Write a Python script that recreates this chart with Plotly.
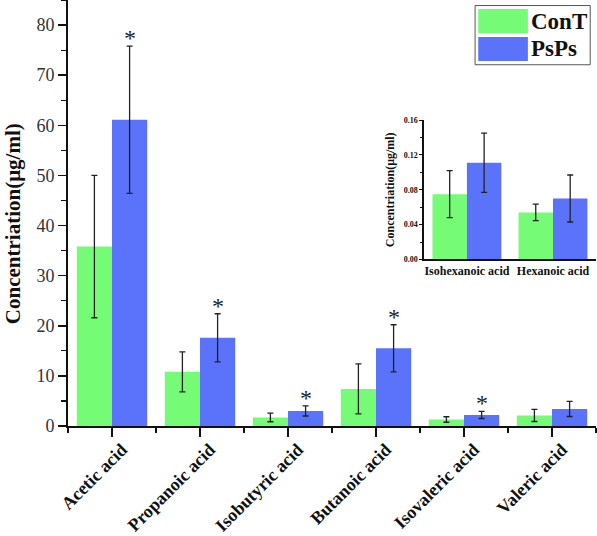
import plotly.graph_objects as go

categories = ["Acetic acid", "Propanoic acid", "Isobutyric acid", "Butanoic acid", "Isovaleric acid", "Valeric acid"]
cont_vals = [35.8, 10.8, 1.7, 7.4, 1.3, 2.1]
cont_err = [14.2, 4.0, 0.85, 5.0, 0.55, 1.2]
psps_vals = [61.1, 17.6, 3.0, 15.5, 2.2, 3.4]
psps_err = [14.7, 4.8, 1.0, 4.7, 0.7, 1.5]
significant = [True, True, True, True, True, False]

inset_categories = ["Isohexanoic acid", "Hexanoic acid"]
inset_cont_vals = [0.075, 0.054]
inset_cont_err = [0.027, 0.0095]
inset_psps_vals = [0.111, 0.070]
inset_psps_err = [0.034, 0.027]

series_names = ["ConT", "PsPs"]
y_title = "Concentriation(μg/ml)"
GREEN = "rgb(118,251,118)"
BLUE = "rgb(90,115,250)"
SERIF = "Liberation Serif"

fig = go.Figure()
xi = list(range(len(categories)))
xin = list(range(len(inset_categories)))

def add_bars(x, vals, err, name, color, xa, ya, offset):
    fig.add_trace(go.Bar(
        x=x, y=vals, name=name, marker=dict(color=color, line=dict(width=0)),
        width=0.4, offset=offset,
        error_y=dict(type="data", array=err, visible=True, color="#222", thickness=1.3, width=3),
        xaxis=xa, yaxis=ya, showlegend=False, hoverinfo="skip"))

add_bars(xi, cont_vals, cont_err, series_names[0], GREEN, "x", "y", -0.4)
add_bars(xi, psps_vals, psps_err, series_names[1], BLUE, "x", "y", 0.0)
add_bars(xin, inset_cont_vals, inset_cont_err, series_names[0], GREEN, "x2", "y2", -0.4)
add_bars(xin, inset_psps_vals, inset_psps_err, series_names[1], BLUE, "x2", "y2", 0.0)

annotations = []
for i, sig in enumerate(significant):
    if sig:
        annotations.append(dict(x=i + 0.2, y=psps_vals[i] + psps_err[i], xref="x", yref="y",
                                text="*", showarrow=False, yanchor="bottom", yshift=-7,
                                font=dict(family=SERIF, size=24, color="#222")))

# main y-axis title
annotations.append(dict(x=-0.104, y=0.474, xref="paper", yref="paper", text="<b>%s</b>" % y_title,
                        textangle=-90, showarrow=False, xanchor="center", yanchor="middle",
                        font=dict(family=SERIF, size=21, color="#111")))

# legend (drawn manually to get large swatches)
shapes = [dict(type="rect", xref="paper", yref="paper", x0=0.771, x1=0.989, y0=0.848, y1=0.987,
               line=dict(color="#555", width=1), fillcolor="white", layer="above")]
leg_colors = [GREEN, BLUE]
leg_y = [(0.922, 0.979), (0.857, 0.913)]
for (y0, y1), c, n in zip(leg_y, leg_colors, series_names):
    shapes.append(dict(type="rect", xref="paper", yref="paper", x0=0.777, x1=0.871, y0=y0, y1=y1,
                       line=dict(width=0), fillcolor=c, layer="above"))
    annotations.append(dict(x=0.874, y=(y0 + y1) / 2, xref="paper", yref="paper", text="<b>%s</b>" % n,
                            showarrow=False, xanchor="left", yanchor="middle",
                            font=dict(family=SERIF, size=23, color="#111")))

fig.update_layout(
    width=597, height=536,
    margin=dict(l=68, r=1, t=0, b=110, autoexpand=False),
    paper_bgcolor="white", plot_bgcolor="white",
    bargap=0.2, barmode="overlay", hovermode=False,
    annotations=annotations, shapes=shapes,
    xaxis=dict(range=[-0.5, 5.5], tickvals=xi, ticktext=["<b>%s</b>" % c for c in categories],
               tickangle=-45, ticks="outside", ticklen=9, tickwidth=1.5, tickcolor="#111",
               showline=True, linecolor="#111", linewidth=2, showgrid=False, zeroline=False,
               automargin=False, ticklabelshift=10, ticklabelstandoff=-5,
               minor=dict(tickvals=[v - 0.5 for v in xi] + [xi[-1] + 0.5], ticks="outside", ticklen=5,
                          tickwidth=1.5, tickcolor="#111"),
               tickfont=dict(family=SERIF, size=18, color="#111")),
    yaxis=dict(range=[0, 85], dtick=10, ticks="outside", ticklen=8, tickwidth=1.5, tickcolor="#111",
               showline=True, linecolor="#111", linewidth=2, showgrid=False, zeroline=False,
               automargin=False,
               minor=dict(dtick=5, ticks="outside", ticklen=5, tickwidth=1.2, tickcolor="#111"),
               tickfont=dict(family=SERIF, size=18, color="#333")),
    xaxis2=dict(domain=[0.674, 1.0], anchor="y2", range=[-0.5, 1.5], tickvals=xin,
                ticktext=["<b>%s</b>" % c for c in inset_categories], ticks="",
                showline=True, linecolor="#111", linewidth=1.5, showgrid=False, zeroline=False,
                automargin=False,
                tickfont=dict(family=SERIF, size=12, color="#111")),
    yaxis2=dict(domain=[0.391, 0.718], anchor="x2", range=[0, 0.16], tickvals=[0, 0.04, 0.08, 0.12, 0.16],
                ticktext=["<b>0.00</b>", "<b>0.04</b>", "<b>0.08</b>", "<b>0.12</b>", "<b>0.16</b>"],
                ticks="outside", ticklen=3, tickwidth=1, tickcolor="#111",
                showline=True, linecolor="#111", linewidth=1.5, showgrid=False, zeroline=False,
                automargin=False,
                minor=dict(dtick=0.02, ticks="outside", ticklen=2, tickwidth=1, tickcolor="#111"),
                tickfont=dict(family=SERIF, size=8, color="#111"),
                title=dict(text="<b>%s</b>" % y_title, font=dict(family=SERIF, size=12, color="#111"), standoff=6)),
)

fig.write_html("out.html", config={"displayModeBar": False, "staticPlot": True},
               post_script="document.body.style.margin='0px';document.body.style.overflow='hidden';")
